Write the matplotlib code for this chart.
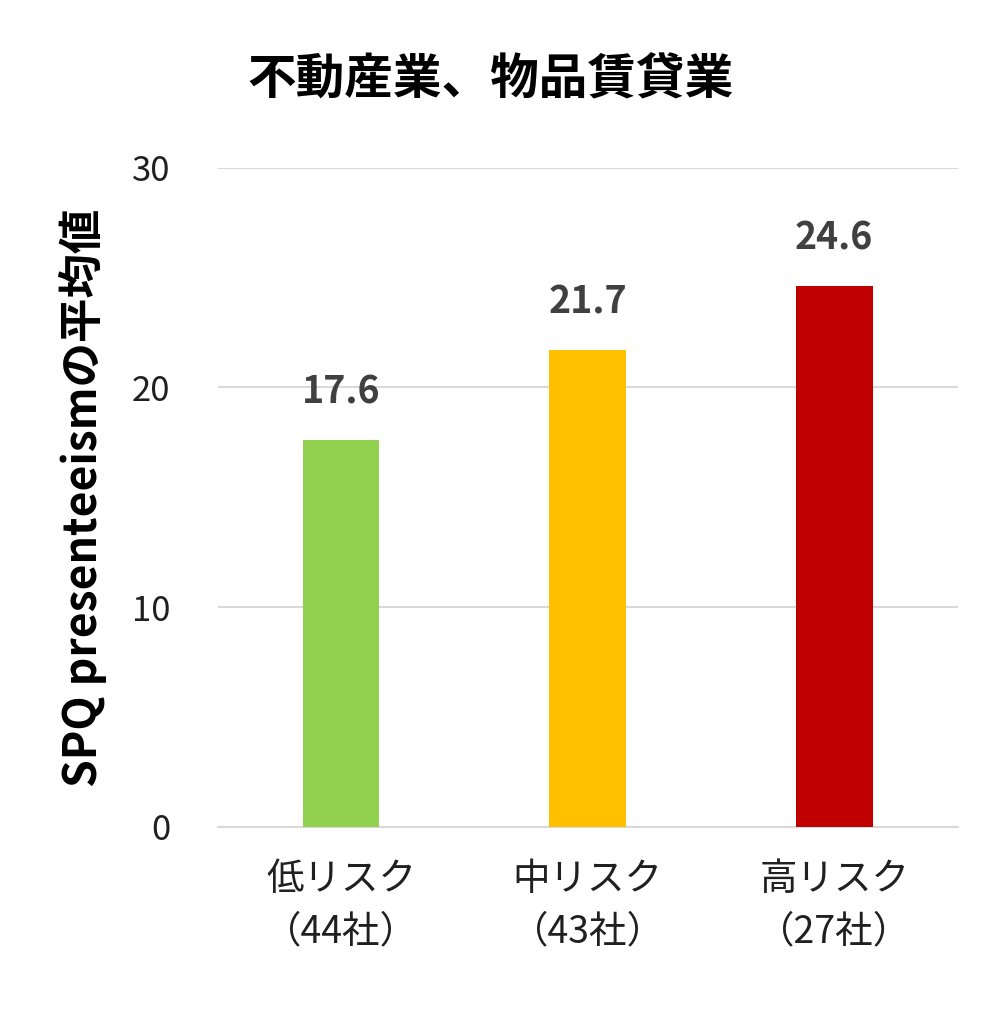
import matplotlib.pyplot as plt

plt.rcParams['font.family'] = ['Noto Sans CJK JP', 'DejaVu Sans']

categories = ['低リスク\n（44社）', '中リスク\n（43社）', '高リスク\n（27社）']
values = [17.6, 21.7, 24.6]
colors = ['#92D050', '#FFC000', '#C00000']

fig = plt.figure(figsize=(10.08, 10.35), dpi=100)
ax = fig.add_axes([0.216, 0.201, 0.734, 0.637])

x = range(len(categories))
ax.bar(x, values, width=0.31, color=colors, zorder=3)
for xi, v in zip(x, values):
    ax.text(xi, v + 1.3, f'{v:.1f}', ha='center', va='bottom',
            fontsize=27, fontweight='bold', color='#404040')

ax.set_xlim(-0.5, 2.5)
ax.set_ylim(0, 30)
ax.set_yticks([0, 10, 20, 30])
ax.set_xticks(list(x))
ax.set_xticklabels(categories, fontsize=27, color='#202020', linespacing=1.45)
ax.tick_params(axis='y', labelsize=25, colors='#202020', length=0, pad=34)
ax.tick_params(axis='x', length=0, pad=24)
ax.grid(axis='y', color='#D9D9D9', linewidth=1.5, zorder=0)
for s in ['top', 'right', 'left']:
    ax.spines[s].set_visible(False)
ax.spines['bottom'].set_color('#D9D9D9')
ax.spines['bottom'].set_linewidth(1.5)

ax.set_ylabel('SPQ presenteeismの平均値', fontsize=32, fontweight='bold', labelpad=18)
fig.text(0.487, 0.923, '不動産業、物品賃貸業', ha='center', va='center',
         fontsize=35, fontweight='bold')

fig.savefig('out.png', dpi=100)
